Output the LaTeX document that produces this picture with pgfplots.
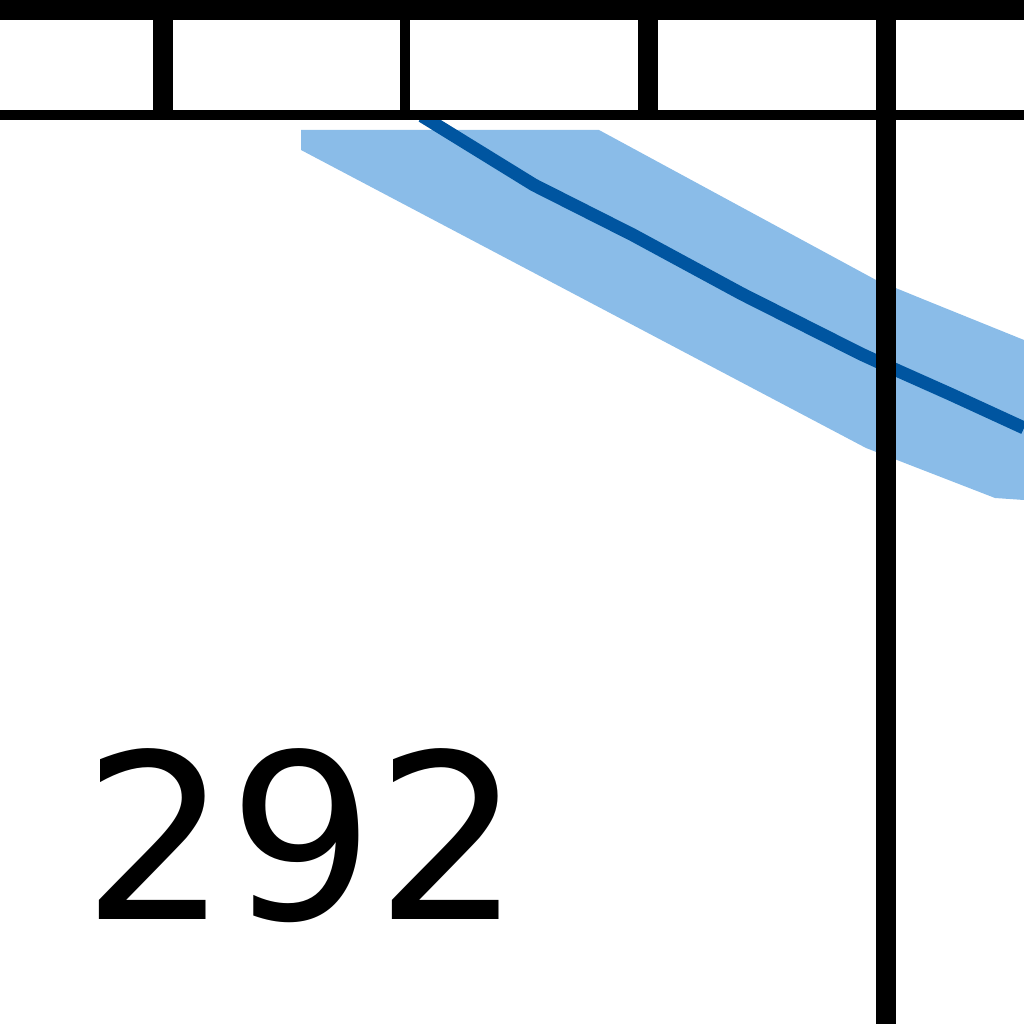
\documentclass[border=0pt]{standalone}
\usepackage{pgfplots}
\pgfplotsset{compat=1.18}
\usepackage{fontspec}
\setmainfont{DejaVu Sans}
\definecolor{lineblue}{RGB}{0,85,160}
\definecolor{bandblue}{RGB}{138,188,232}
\begin{document}
\begin{tikzpicture}
\begin{axis}[width=10cm,height=10cm,scale only axis,
  xmin=0,xmax=1024,ymin=0,ymax=1024,y dir=reverse,hide axis]
% confidence band
\addplot[fill=bandblue,draw=none] coordinates {
  (301,130)(599,130)(876,280)(925,300)(1024,340)
  (1024,500)(995,498)(866,448)(301,150)} -- cycle;
% mean line
\addplot[lineblue,line width=3.6pt] coordinates {
  (422,116)(534,185)(633,235)(742,294)(861,354)(885,365)(950,394)(1024,428)};
% frame lines
\addplot[fill=black,draw=none] coordinates {(0,0)(1024,0)(1024,20)(0,20)} -- cycle;
\addplot[fill=black,draw=none] coordinates {(0,110)(1024,110)(1024,120)(0,120)} -- cycle;
\addplot[fill=black,draw=none] coordinates {(153,20)(173,20)(173,110)(153,110)} -- cycle;
\addplot[fill=black,draw=none] coordinates {(400,20)(410,20)(410,110)(400,110)} -- cycle;
\addplot[fill=black,draw=none] coordinates {(638,20)(658,20)(658,110)(638,110)} -- cycle;
\addplot[fill=black,draw=none] coordinates {(876,0)(896,0)(896,1024)(876,1024)} -- cycle;
\node[font=\fontsize{64}{70}\selectfont] at (axis cs:302,836) {292};
\end{axis}
\pgfresetboundingbox
\path (current axis.south west) rectangle (current axis.north east);
\end{tikzpicture}
\end{document}
